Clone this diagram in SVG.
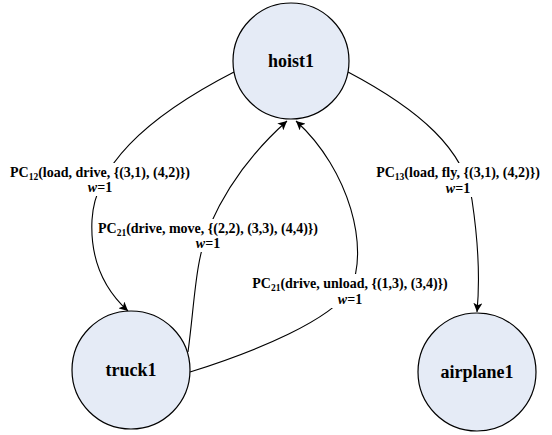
<svg xmlns="http://www.w3.org/2000/svg" width="552" height="435" viewBox="0 0 552 435">
<defs>
<marker id="arr" viewBox="0 0 10 10" refX="10" refY="5" markerWidth="9" markerHeight="9" markerUnits="userSpaceOnUse" orient="auto">
<path d="M0,0 L10,5 L0,10 L2.5,5 z" fill="#000"/>
</marker>
<style>
.node circle{fill:#E5EBF6;stroke:#000;stroke-width:1.2}
.node text{font-family:"Liberation Serif","Times New Roman",serif;font-weight:bold;font-size:18px;text-anchor:middle}
.edge{fill:none;stroke:#000;stroke-width:1.1;marker-end:url(#arr)}
.lbl{font-family:"Liberation Serif","Times New Roman",serif;font-weight:bold;font-size:14px;text-anchor:middle;fill:#000}
.bg{fill:#fff}
.sub{font-size:9.5px}
</style>
</defs>
<rect width="552" height="435" fill="#fff"/>
<g id="connectors">
<path class="edge" d="M234,72 C160,110 95,160 92,220 C90,260 105,290 128,311"/>
<path class="edge" d="M188,352 C195,300 195,260 210,225 C230,180 260,145 287,121"/>
<path class="edge" d="M190,372 C260,350 330,320 350,290 C370,250 350,170 296,121"/>
<path class="edge" d="M348,72 C420,110 465,150 472,200 C478,240 480,280 477,312"/>
<rect class="bg" x="8" y="163" width="186" height="33"/>
<text class="lbl" x="100" y="177">PC<tspan class="sub" dy="3">12</tspan><tspan dy="-3">(load, drive, {(3,1), (4,2)})</tspan></text>
<text class="lbl" x="100" y="192"><tspan font-style="italic">w</tspan>=1</text>
<rect class="bg" x="96" y="219" width="224" height="33"/>
<text class="lbl" x="208" y="233">PC<tspan class="sub" dy="3">21</tspan><tspan dy="-3">(drive, move, {(2,2), (3,3), (4,4)})</tspan></text>
<text class="lbl" x="208" y="248"><tspan font-style="italic">w</tspan>=1</text>
<rect class="bg" x="266" y="274" width="168" height="34"/>
<text class="lbl" x="350" y="288">PC<tspan class="sub" dy="3">21</tspan><tspan dy="-3">(drive, unload, {(1,3), (3,4)})</tspan></text>
<text class="lbl" x="350" y="304"><tspan font-style="italic">w</tspan>=1</text>
<rect class="bg" x="383" y="163" width="150" height="34"/>
<text class="lbl" x="458" y="177">PC<tspan class="sub" dy="3">13</tspan><tspan dy="-3">(load, fly, {(3,1), (4,2)})</tspan></text>
<text class="lbl" x="458" y="193"><tspan font-style="italic">w</tspan>=1</text>
</g>
<g id="hoist1" class="node">
<circle cx="291" cy="61" r="58"/>
<text x="291" y="67">hoist1</text>
</g>
<g id="truck1" class="node">
<circle cx="131" cy="370" r="59"/>
<text x="131" y="376">truck1</text>
</g>
<g id="airplane1" class="node">
<circle cx="477" cy="372" r="59"/>
<text x="477" y="378">airplane1</text>
</g>
</svg>
